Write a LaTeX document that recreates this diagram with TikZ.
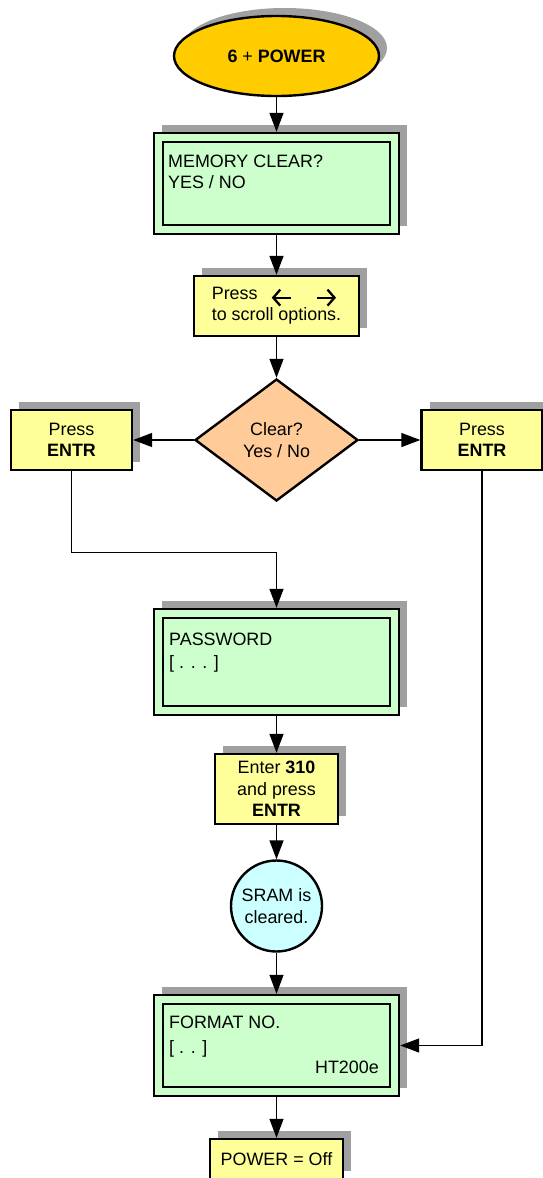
\documentclass[tikz,border=0pt]{standalone}
\usepackage{fontspec}
\setmainfont{Liberation Sans}
\usetikzlibrary{shapes.geometric,arrows.meta,shadows}
\definecolor{shadowgray}{HTML}{A0A0A0}
\definecolor{gold}{HTML}{FFCC00}
\definecolor{lcdgreen}{HTML}{CCFFCC}
\definecolor{notey}{HTML}{FFFF99}
\definecolor{peach}{HTML}{FFCC99}
\definecolor{cyanl}{HTML}{CCFFFF}
\newcommand\keyarrow[1]{\tikz[baseline=0pt]{\draw[line width=2.3pt, #1] (0pt,2pt) -- (19pt,2pt);}}
\begin{document}
\begin{tikzpicture}[x=1pt,y=-1pt,
  every node/.style={font=\fontsize{17.9}{21.3}\selectfont, inner sep=0pt},
  shad/.style={drop shadow={shadow xshift=8pt,shadow yshift=8pt,fill=shadowgray,opacity=1}},
  box/.style={draw, line width=2.4pt, shad, align=center},
  lcd/.style={box, fill=lcdgreen, minimum width=245pt},
  note/.style={box, fill=notey},
  inner/.style={line width=2.2pt},
  conn/.style={line width=1.4pt, -{Triangle[length=19pt,width=14pt]}},
  txt/.style={anchor=base west},
  barbL/.style={{Straight Barb[length=7pt,width=16pt]}-},
  barbR/.style={-{Straight Barb[length=7pt,width=16pt]}}
]
\useasboundingbox (0,0) rectangle (543,1178);

% start
\node[draw, line width=2.4pt, shad, ellipse, fill=gold, minimum width=205pt, minimum height=80pt] (start) at (276.5,56) {\textbf{6} + \textbf{POWER}};

% memory clear
\node[lcd, minimum height=101pt] (mem) at (276.5,183.5) {};
\draw[inner] ([shift={(10pt,-10pt)}]mem.north west) rectangle ([shift={(-10pt,10pt)}]mem.south east);
\node[txt] (memt1) at (168,167) {MEMORY CLEAR?};
\node[txt] (memt2) at (168,188) {YES / NO};

% scroll
\node[note, align=left, minimum width=165pt, minimum height=60pt] (scroll) at (276.5,306) {Press\hspace{13pt}\keyarrow{barbL}\hspace{24pt}\keyarrow{barbR}\\to scroll options.};

% decision
\node[draw, line width=2.4pt, diamond, fill=peach, minimum width=163pt, minimum height=122pt, align=center] (dec) at (276.5,440) {Clear?\\Yes / No};

\node[note, minimum width=121pt, minimum height=60pt] (pl) at (71.5,440) {Press\\\textbf{ENTR}};
\node[note, minimum width=121pt, minimum height=60pt] (pr) at (482,440) {Press\\\textbf{ENTR}};

% password
\node[lcd, minimum height=106pt] (pw) at (276.5,662) {};
\draw[inner] ([shift={(10pt,-10pt)}]pw.north west) rectangle ([shift={(-10pt,10pt)}]pw.south east);
\node[txt] (pwt1) at (169,645) {PASSWORD};
\node[txt] (pwt2) at (169,668) {[ . . . ]};

% enter
\node[note, minimum width=123pt, minimum height=70pt] (ent) at (276.5,789) {Enter \textbf{310}\\and press\\\textbf{ENTR}};

% sram
\node[draw, line width=2.4pt, circle, fill=cyanl, minimum size=91pt, align=center] (sram) at (276.5,906) {SRAM is\\cleared.};

% format
\node[lcd, minimum height=101pt] (fmt) at (276.5,1045.5) {};
\draw[inner] ([shift={(10pt,-10pt)}]fmt.north west) rectangle ([shift={(-10pt,10pt)}]fmt.south east);
\node[txt] (fmtt1) at (169,1028) {FORMAT NO.};
\node[txt] (fmtt2) at (169,1053) {[ . . ]};
\node[anchor=base east] (fmtt3) at (379,1073) {HT200e};

% off
\node[note, minimum width=133pt, minimum height=40pt] (off) at (276.5,1159) {POWER = Off};

% connectors
\coordinate (j) at (276.5,552.5);
\draw[conn] (start) -- (mem);
\draw[conn] (mem) -- (scroll);
\draw[conn] (scroll) -- (dec);
\draw[conn] (dec) -- (pl);
\draw[conn] (dec) -- (pr);
\draw[conn] (pl.south) |- (j) -- (pw.north);
\draw[conn] (pw) -- (ent);
\draw[conn] (ent) -- (sram);
\draw[conn] (sram) -- (fmt);
\draw[conn] (pr.south) |- (fmt.east);
\draw[conn] (fmt) -- (off);
\end{tikzpicture}
\end{document}
